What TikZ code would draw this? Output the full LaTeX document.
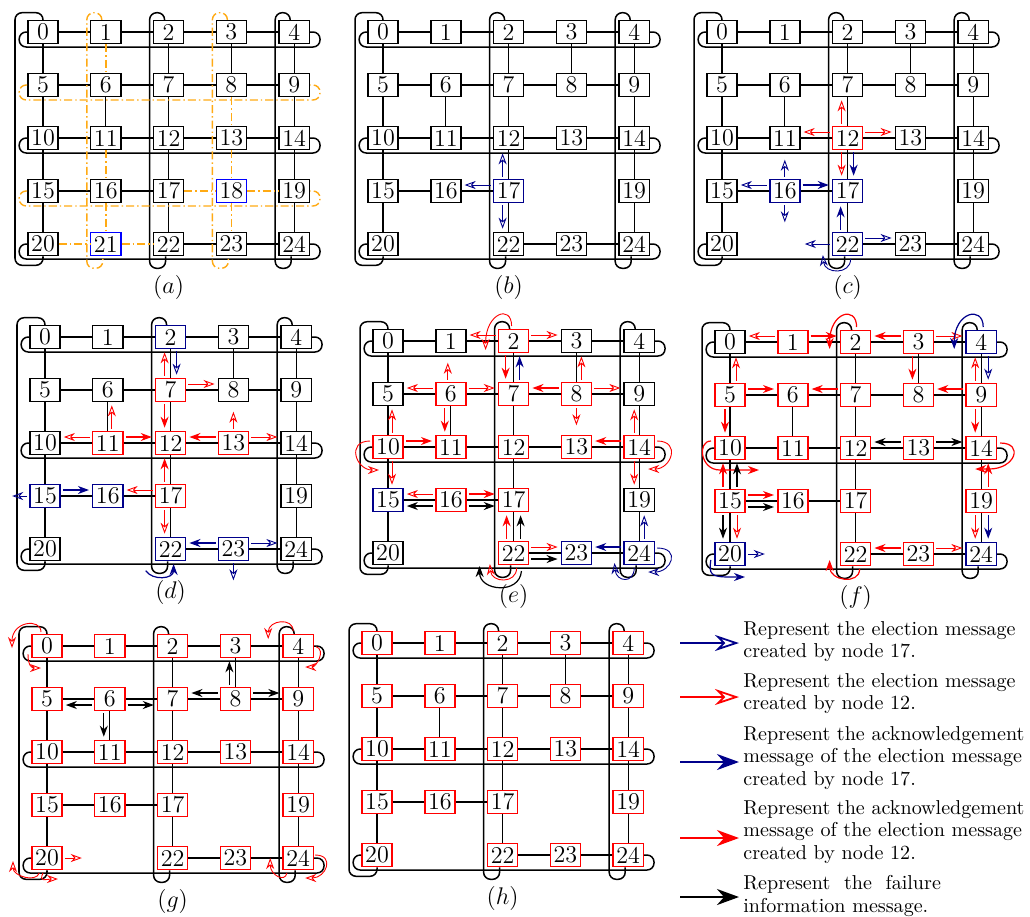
\documentclass[tikz,border=0pt]{standalone}
\usepackage{tikz}
\usetikzlibrary{arrows.meta,calc}

\definecolor{navy}{RGB}{0,0,139}
\definecolor{ringorange}{RGB}{255,170,20}

\tikzset{
  box/.style={draw, fill=white, line width=0.75pt, minimum width=15pt, minimum height=11.5pt, inner sep=1pt, font=\large},
  boxk/.style={box},
  boxr/.style={box, draw=red},
  boxb/.style={box, draw=navy},
  boxB/.style={box, draw=blue},
  link/.style={line width=0.55pt},
  brokenlink/.style={draw=ringorange, line width=0.7pt, dash pattern=on 4pt off 1.5pt on 0.7pt off 1.5pt},
  ring/.style={line width=0.75pt, rounded corners=3.5pt},
  brokenring/.style={brokenlink, rounded corners=3.5pt},
  msg/.style={line width=0.45pt, shorten <=1pt, shorten >=1.5pt},
  elecb/.style={msg, navy, -{Stealth[open, length=5.5pt, width=4pt]}},
  elecr/.style={msg, red, -{Stealth[open, length=5.5pt, width=4pt]}},
  ackb/.style={msg, line width=0.6pt, navy, -{Stealth[length=5.5pt, width=4pt]}},
  ackr/.style={msg, line width=0.6pt, red, -{Stealth[length=5.5pt, width=4pt]}},
  fail/.style={msg, line width=0.6pt, black, -{Stealth[length=5.5pt, width=4pt]}},
  lbl/.style={font=\large},
  legtxt/.style={anchor=west, align=left, inner sep=0pt, font=\fontsize{10}{11}\selectfont},
  legarrow/.style={line width=0.9pt, shorten >=2pt},
}

\begin{document}
\begin{tikzpicture}[x=0.0175cm, y=-0.0175cm]
    \useasboundingbox (0,0) rectangle (1030,916);

    % panels: name / centre of node 0 / border colour of nodes 0..24
    \foreach \p/\ox/\oy/\cl in {
        a/43/32/{k,k,k,k,k,k,k,k,k,k,k,k,k,k,k,k,k,k,B,k,k,B,k,k,k},
        b/383/32/{k,k,k,k,k,k,k,k,k,k,k,k,k,k,k,k,k,b,n,k,k,n,k,k,k},
        c/722/32/{k,k,k,k,k,k,k,k,k,k,k,k,r,k,k,k,b,b,n,k,k,n,b,k,k},
        d/45/337/{k,k,b,k,k,k,k,r,k,k,k,r,r,r,k,b,b,r,n,k,k,n,b,b,k},
        e/388/341/{k,k,r,k,k,k,r,r,r,k,r,r,r,r,r,b,r,r,n,k,k,n,r,b,b},
        f/730/342/{k,r,r,r,b,r,r,r,r,r,r,r,r,r,r,r,r,r,n,r,b,n,r,r,b},
        g/47/646/{r,r,r,r,r,r,r,r,r,r,r,r,r,r,r,r,r,r,n,r,r,n,r,r,r},
        h/377/643/{r,r,r,r,r,r,r,r,r,r,r,r,r,r,r,r,r,r,n,r,r,n,r,r,r}}
    {
        \foreach \col [count=\id from 0] in \cl {
            \if n\col\else
                \node[box\col] (\p\id) at ({\ox+62.8*mod(\id,5)},{\oy+53*floor(\id/5)}) {\id};
            \fi
        }
        \foreach \u/\v in {0/1,1/2,2/3,3/4,5/6,6/7,7/8,8/9,10/11,11/12,12/13,13/14,15/16,16/17,22/23,23/24,
                           0/5,2/7,3/8,4/9,5/10,6/11,7/12,9/14,10/15,12/17,14/19,15/20,17/22,19/24}
            \draw[link] (\p\u) -- (\p\v);
        \foreach \r/\s in {0/4,10/14,20/24}
            \draw[ring] (\p\r.west) -| ++(-8,15) -| ($(\p\s.east)+(10,0)$) -- (\p\s.east);
        \draw[ring] (\p0.north) |- ++(-28,-7) |- ($(\p20.south)+(0,9)$) -- (\p20.south);
        \foreach \t/\b in {2/22,4/24}
            \draw[ring] ($(\p\t.north)+(-4,0)$) |- ++(-15,-7) |- ($(\p\b.south)+(-3,12)$) -- ($(\p\b.south)+(-3,0)$);
        \node[lbl] (lab\p) at ($(\p22)+(0,43)$) {$(\p)$};
    }

    % (a) broken rings and links
    \foreach \u/\v in {1/6,8/13,11/16,13/18,17/18,18/19,16/21,18/23,20/21,21/22}
        \draw[brokenlink] (a\u) -- (a\v);
    \foreach \r/\s in {5/9,15/19}
        \draw[brokenring] (a\r.west) -| ++(-8,15) -| ($(a\s.east)+(10,0)$) -- (a\s.east);
    \foreach \t/\b in {1/21,3/23}
        \draw[brokenring] ($(a\t.north)+(-4,0)$) |- ++(-15,-7) |- ($(a\b.south)+(-3,12)$) -- ($(a\b.south)+(-3,0)$);

    % (b)
    \draw[elecb] ($(b17.north)+(-6,0)$) -- ($(b12.south)+(-6,0)$);
    \draw[elecb] ($(b17.west)+(0,-6)$) -- ($(b16.east)+(0,-6)$);
    \draw[elecb] ($(b17.south)+(-6,0)$) -- ($(b22.north)+(-6,0)$);

    % (c)
    \draw[elecr] ($(c12.north)+(-6,0)$) -- ($(c7.south)+(-6,0)$);
    \draw[elecr] ($(c12.west)+(0,-6)$) -- ($(c11.east)+(0,-6)$);
    \draw[elecr] ($(c12.east)+(0,-6)$) -- ($(c13.west)+(0,-6)$);
    \draw[elecr] ($(c12.south)+(-6,0)$) -- ($(c17.north)+(-6,0)$);
    \draw[ackb] ($(c12.south)+(6,0)$) -- ($(c17.north)+(6,0)$);
    \draw[elecb] (c16.north) -- ++(0,-22);
    \draw[elecb] (c16.south) -- ++(0,22);
    \draw[elecb] ($(c16.west)+(0,-6)$) -- ($(c15.east)+(0,-6)$);
    \draw[ackb] ($(c16.east)+(0,-6)$) -- ($(c17.west)+(0,-6)$);
    \draw[ackb] ($(c22.north)+(-7,0)$) -- ($(c17.south)+(-7,0)$);
    \draw[elecb] ($(c22.east)+(0,-6)$) -- ($(c23.west)+(0,-6)$);
    \draw[elecb] (c22.west) -- ++(-30,0);
    \draw[elecb] ($(c22)+(3,13)$) .. controls +(0,18) and +(2,22) .. ($(c22)+(-25,8)$);

    % (d)
    \draw[elecr] ($(d7.north)+(-6,0)$) -- ($(d2.south)+(-6,0)$);
    \draw[elecb] ($(d2.south)+(6,0)$) -- ($(d7.north)+(6,0)$);
    \draw[elecr] ($(d7.east)+(0,-6)$) -- ($(d8.west)+(0,-6)$);
    \draw[ackr] ($(d7.south)+(-6,0)$) -- ($(d12.north)+(-6,0)$);
    \draw[elecr] ($(d11.north)+(4,0)$) -- ($(d6.south)+(4,0)$);
    \draw[elecr] ($(d11.west)+(0,-6)$) -- ($(d10.east)+(0,-6)$);
    \draw[ackr] ($(d11.east)+(0,-6)$) -- ($(d12.west)+(0,-6)$);
    \draw[ackr] ($(d13.west)+(0,-6)$) -- ($(d12.east)+(0,-6)$);
    \draw[elecr] (d13.north) -- ++(0,-22);
    \draw[elecr] ($(d13.east)+(0,-6)$) -- ($(d14.west)+(0,-6)$);
    \draw[ackr] ($(d17.north)+(-6,0)$) -- ($(d12.south)+(-6,0)$);
    \draw[elecr] ($(d17.west)+(0,-6)$) -- ($(d16.east)+(0,-6)$);
    \draw[elecr] ($(d17.south)+(-6,0)$) -- ($(d22.north)+(-6,0)$);
    \draw[ackb] ($(d15.east)+(0,-6)$) -- ($(d16.west)+(0,-6)$);
    \draw[elecb] (d15.west) -- ++(-20,0);
    \draw[ackb] ($(d23.west)+(0,-6)$) -- ($(d22.east)+(0,-6)$);
    \draw[elecb] ($(d23.east)+(0,-6)$) -- ($(d24.west)+(0,-6)$);
    \draw[elecb] (d23.south) -- ++(0,22);
    \draw[ackb] ($(d22)+(-26,20)$) .. controls +(8,12) and +(0,18) .. ($(d22)+(3,12)$);

    % (e)
    \draw[elecr] ($(e2.west)+(0,-6)$) -- ($(e1.east)+(0,-6)$);
    \draw[elecr] ($(e2.east)+(0,-6)$) -- ($(e3.west)+(0,-6)$);
    \draw[ackr] ($(e2.south)+(-8,0)$) -- ($(e7.north)+(-8,0)$);
    \draw[ackb] ($(e7.north)+(6,0)$) -- ($(e2.south)+(6,0)$);
    \draw[elecr] ($(e2)+(-2,-13)$) .. controls +(0,-24) and +(0,-40) .. ($(e2)+(-28,12)$);
    \draw[elecr] ($(e6.north)+(-3,0)$) -- ++(0,-22);
    \draw[elecr] ($(e6.west)+(0,-6)$) -- ($(e5.east)+(0,-6)$);
    \draw[elecr] ($(e6.east)+(0,-6)$) -- ($(e7.west)+(0,-6)$);
    \draw[ackr] ($(e6.south)+(-6,0)$) -- ($(e11.north)+(-6,0)$);
    \draw[ackr] ($(e8.west)+(0,-6)$) -- ($(e7.east)+(0,-6)$);
    \draw[elecr] ($(e8.north)+(5,0)$) -- ($(e3.south)+(5,0)$);
    \draw[elecr] ($(e8.east)+(0,-6)$) -- ($(e9.west)+(0,-6)$);
    \draw[elecr] (e8.south) -- ++(0,22);
    \draw[elecr] ($(e10.north)+(4,0)$) -- ($(e5.south)+(4,0)$);
    \draw[ackr] ($(e10.east)+(0,-6)$) -- ($(e11.west)+(0,-6)$);
    \draw[elecr] ($(e10.south)+(4,0)$) -- ($(e15.north)+(4,0)$);
    \draw[elecr] ($(e10)+(-16,-6)$) .. controls +(-26,0) and +(-26,0) .. ($(e10)+(-6,23)$);
    \draw[ackr] ($(e14.west)+(0,-6)$) -- ($(e13.east)+(0,-6)$);
    \draw[elecr] ($(e14.north)+(-5,0)$) -- ($(e9.south)+(-5,0)$);
    \draw[elecr] ($(e14.south)+(-5,0)$) -- ($(e19.north)+(-5,0)$);
    \draw[elecr] ($(e14)+(16,-6)$) .. controls +(26,0) and +(26,0) .. ($(e14)+(6,22)$);
    \draw[elecr] ($(e16.west)+(0,-6)$) -- ($(e15.east)+(0,-6)$);
    \draw[ackr] ($(e16.east)+(0,-6)$) -- ($(e17.west)+(0,-6)$);
    \draw[fail] ($(e16.west)+(0,6)$) -- ($(e15.east)+(0,6)$);
    \draw[fail] ($(e16.east)+(0,6)$) -- ($(e17.west)+(0,6)$);
    \draw[ackr] ($(e22.north)+(-7,0)$) -- ($(e17.south)+(-7,0)$);
    \draw[fail] ($(e22.north)+(7,0)$) -- ($(e17.south)+(7,0)$);
    \draw[elecr] ($(e22.east)+(0,-6)$) -- ($(e23.west)+(0,-6)$);
    \draw[fail] ($(e22.east)+(0,6)$) -- ($(e23.west)+(0,6)$);
    \draw[elecr] ($(e22)+(3,13)$) .. controls +(0,18) and +(2,22) .. ($(e22)+(-24,8)$);
    \draw[fail] ($(e22)+(8,16)$) .. controls +(-2,26) and +(0,28) .. ($(e22)+(-34,10)$);
    \draw[ackb] ($(e24.west)+(0,-6)$) -- ($(e23.east)+(0,-6)$);
    \draw[elecb] ($(e24.north)+(5,0)$) -- ($(e19.south)+(5,0)$);
    \draw[elecb] ($(e24)+(-5,13)$) .. controls +(0,18) and +(2,22) .. ($(e24)+(-25,7)$);
    \draw[elecb] ($(e24)+(16,-5)$) .. controls +(26,0) and +(26,0) .. ($(e24)+(6,19)$);

    % (f)
    \draw[elecr] ($(f1.west)+(0,-6)$) -- ($(f0.east)+(0,-6)$);
    \draw[ackr] ($(f1.east)+(0,-6)$) -- ($(f2.west)+(0,-6)$);
    \draw[ackr] ($(f2)+(1,-13)$) .. controls +(0,-24) and +(0,-40) .. ($(f2)+(-26,10)$);
    \draw[ackr] ($(f3.west)+(0,-6)$) -- ($(f2.east)+(0,-6)$);
    \draw[elecr] ($(f3.east)+(0,-6)$) -- ($(f4.west)+(0,-6)$);
    \draw[ackr] ($(f3.south)+(-6,0)$) -- ($(f8.north)+(-6,0)$);
    \draw[ackb] ($(f4)+(2,-13)$) .. controls +(0,-24) and +(0,-40) .. ($(f4)+(-27,10)$);
    \draw[elecb] ($(f4.south)+(7,0)$) -- ($(f9.north)+(7,0)$);
    \draw[elecr] ($(f9.north)+(-6,0)$) -- ($(f4.south)+(-6,0)$);
    \draw[ackr] ($(f9.west)+(0,-6)$) -- ($(f8.east)+(0,-6)$);
    \draw[ackr] ($(f9.south)+(-6,0)$) -- ($(f14.north)+(-6,0)$);
    \draw[elecr] ($(f5.north)+(6,0)$) -- ($(f0.south)+(6,0)$);
    \draw[ackr] ($(f5.east)+(0,-6)$) -- ($(f6.west)+(0,-6)$);
    \draw[ackr] ($(f5.south)+(-5,0)$) -- ($(f10.north)+(-5,0)$);
    \draw[ackr] ($(f7.west)+(0,-6)$) -- ($(f6.east)+(0,-6)$);
    \draw[fail] ($(f13.west)+(0,-6)$) -- ($(f12.east)+(0,-6)$);
    \draw[fail] ($(f13.east)+(0,-6)$) -- ($(f14.west)+(0,-6)$);
    \draw[ackr] ($(f10)+(-17,-7)$) .. controls +(-16,0) and +(-20,0) .. ($(f10)+(-10,22)$) -- ($(f10)+(32,22)$);
    \draw[ackr] ($(f15.north)+(-7,0)$) -- ($(f10.south)+(-7,0)$);
    \draw[fail] ($(f15.north)+(7,0)$) -- ($(f10.south)+(7,0)$);
    \draw[ackr] ($(f15.east)+(0,-6)$) -- ($(f16.west)+(0,-6)$);
    \draw[fail] ($(f15.east)+(0,6)$) -- ($(f16.west)+(0,6)$);
    \draw[fail] ($(f15.south)+(-7,0)$) -- ($(f20.north)+(-7,0)$);
    \draw[elecr] ($(f15.south)+(7,0)$) -- ($(f20.north)+(7,0)$);
    \draw[elecb] (f20.east) -- ++(22,0);
    \draw[ackb] ($(f20)+(-19,4)$) .. controls +(-2,16) and +(-20,0) .. ($(f20)+(0,23)$) -- ($(f20)+(18,23)$);
    \draw[ackr] ($(f14)+(17,-5)$) .. controls +(26,0) and +(26,0) .. ($(f14)+(8,21)$) -- ($(f14)+(-9,21)$);
    \draw[ackr] ($(f19.north)+(7,0)$) -- ($(f14.south)+(7,0)$);
    \draw[elecr] ($(f19.south)+(-6,0)$) -- ($(f24.north)+(-6,0)$);
    \draw[ackb] ($(f19.south)+(7,0)$) -- ($(f24.north)+(7,0)$);
    \draw[ackr] ($(f23.west)+(0,-6)$) -- ($(f22.east)+(0,-6)$);
    \draw[elecr] ($(f23.east)+(0,-6)$) -- ($(f24.west)+(0,-6)$);
    \draw[ackr] ($(f22)+(4,13)$) .. controls +(0,18) and +(0,24) .. ($(f22)+(-26,3)$);

    % (g)
    \draw[elecr] ($(g0)+(-6,-12)$) .. controls +(0,-16) and +(0,-30) .. ($(g0)+(-35,5)$);
    \draw[elecr] ($(g0)+(-19,6)$) .. controls +(0,14) and +(-12,0) .. ($(g0)+(-3,22)$);
    \draw[elecr] ($(g4)+(-5,-13)$) .. controls +(0,-16) and +(0,-22) .. ($(g4)+(-30,-4)$);
    \draw[elecr] ($(g4)+(16,0)$) .. controls +(12,4) and +(14,0) .. ($(g4)+(4,21)$);
    \draw[fail] ($(g8.north)+(-6,0)$) -- ($(g3.south)+(-6,0)$);
    \draw[fail] ($(g8.west)+(0,-6)$) -- ($(g7.east)+(0,-6)$);
    \draw[fail] ($(g8.east)+(0,-6)$) -- ($(g9.west)+(0,-6)$);
    \draw[fail] ($(g6.west)+(0,6)$) -- ($(g5.east)+(0,6)$);
    \draw[fail] ($(g6.east)+(0,6)$) -- ($(g7.west)+(0,6)$);
    \draw[fail] ($(g6.south)+(-6,0)$) -- ($(g11.north)+(-6,0)$);
    \draw[elecr] (g20.east) -- ++(22,0);
    \draw[elecr] ($(g20)+(-7,13)$) .. controls +(-4,12) and +(0,18) .. ($(g20)+(-34,0)$);
    \draw[elecr] ($(g20)+(-3,13)$) .. controls +(-6,12) and +(-14,0) .. ($(g20)+(14,21)$);
    \draw[elecr] ($(g24)+(-11,13)$) .. controls +(-2,12) and +(0,20) .. ($(g24)+(-28,-3)$);
    \draw[elecr] ($(g24)+(15,-3)$) .. controls +(22,0) and +(24,0) .. ($(g24)+(4,20)$);

    % legend
    \node[legtxt] (t1) at (743,641.5) {Represent the election message\\created by node 17.};
    \node[legtxt] (t2) at (743,693.5) {Represent the election message\\created by node 12.};
    \node[legtxt] (t3) at (743,758) {Represent the acknowledgement\\message of the election message\\created by node 17.};
    \node[legtxt] (t4) at (743,832) {Represent the acknowledgement\\message of the election message\\created by node 12.};
    \node[legtxt] (t5) at (743,896) {Represent \hspace{3.5pt}the \hspace{3.5pt}failure\\information message.};
    \coordinate (k1) at (680,643);
    \coordinate (k2) at (680,697);
    \coordinate (k3) at (680,762);
    \coordinate (k4) at (680,838);
    \coordinate (k5) at (680,897);
    \draw[legarrow, navy, -{Stealth[open, length=12pt, width=8pt]}] (k1) -- (k1 -| t1.west);
    \draw[legarrow, red, -{Stealth[open, length=12pt, width=8pt]}] (k2) -- (k2 -| t2.west);
    \draw[legarrow, navy, -{Stealth[length=11pt, width=8pt]}] (k3) -- (k3 -| t3.west);
    \draw[legarrow, red, -{Stealth[length=11pt, width=8pt]}] (k4) -- (k4 -| t4.west);
    \draw[legarrow, black, -{Stealth[length=11pt, width=8pt]}] (k5) -- (k5 -| t5.west);
\end{tikzpicture}
\end{document}
